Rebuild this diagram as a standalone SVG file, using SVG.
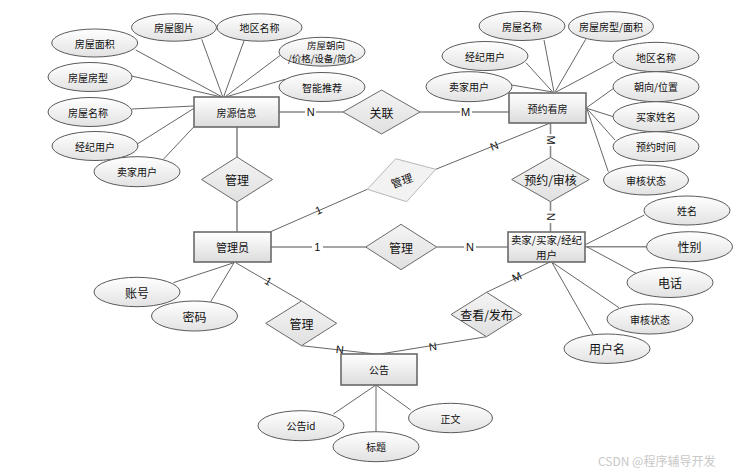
<svg xmlns="http://www.w3.org/2000/svg" width="738" height="473" viewBox="0 0 738 473">
<defs>
<linearGradient id="gE" x1="0" y1="0" x2="0" y2="1"><stop offset="0" stop-color="#ffffff"/><stop offset="1" stop-color="#e2e2e2"/></linearGradient>
<linearGradient id="gR" x1="0" y1="0" x2="0" y2="1"><stop offset="0" stop-color="#ffffff"/><stop offset="1" stop-color="#dcdcdc"/></linearGradient>
<linearGradient id="gD" x1="0" y1="0" x2="0" y2="1"><stop offset="0" stop-color="#f4f4f4"/><stop offset="1" stop-color="#e0e0e0"/></linearGradient>
<style>
.e{fill:url(#gE);stroke:#5a5a5a;stroke-width:1}
.r{fill:url(#gR);stroke:#6a6a6a;stroke-width:1.6}
.d{fill:url(#gD);stroke:#6a6a6a;stroke-width:1}
.dl{fill:#f2f2f2;stroke:#b8b8b8;stroke-width:1}
.c line,.c polyline{stroke:#666;stroke-width:1;fill:none}
.c .h{stroke:#888;stroke-width:1.6}
text{font-family:"Noto Sans CJK SC","Noto Sans",sans-serif;fill:#111;text-anchor:middle;dominant-baseline:central}
.t9{font-size:9.5px}
.t10{font-size:10px}
.t105{font-size:10.5px}
.t11{font-size:11px}
.t12{font-size:12px}
.lb{font-family:"Liberation Sans",sans-serif;font-size:11px;fill:#111}
.wm{font-size:12px;fill:#c8c8c8;text-anchor:start}
</style>
</defs>
<rect width="738" height="473" fill="#ffffff"/>

<g class="c" id="connectors">
<line x1="135.7" y1="50" x2="221.7" y2="96.7"/>
<line x1="201.7" y1="39.3" x2="222.7" y2="96.7"/>
<line x1="244.3" y1="40" x2="223.7" y2="96.7"/>
<line x1="280.7" y1="55" x2="225.3" y2="96.7"/>
<line x1="285" y1="79.3" x2="226.7" y2="96.7"/>
<line x1="131.7" y1="76" x2="220" y2="96.7"/>
<line x1="131.7" y1="109" x2="194" y2="106"/>
<line x1="137.3" y1="144" x2="194" y2="108.3"/>
<line x1="163.3" y1="159.3" x2="194" y2="126.7"/>
<line class="h" x1="237" y1="127" x2="237" y2="157"/>
<line class="h" x1="237" y1="202" x2="237" y2="232"/>
<line class="h" x1="279" y1="112" x2="343" y2="112"/>
<line class="h" x1="420" y1="112" x2="509" y2="112"/>
<line x1="270.7" y1="231.7" x2="367.3" y2="189.3"/>
<line x1="435.7" y1="169.3" x2="550.3" y2="123"/>
<line class="h" x1="271" y1="247" x2="365.7" y2="247"/>
<line class="h" x1="436.7" y1="247" x2="508" y2="247"/>
<line class="h" x1="550.5" y1="123" x2="550.5" y2="157.3"/>
<line class="h" x1="550.5" y1="201.7" x2="550.5" y2="232"/>
<line x1="173.3" y1="282.7" x2="234" y2="262.7"/>
<line x1="210.7" y1="301.7" x2="234" y2="262.7"/>
<line x1="235.7" y1="262.7" x2="301.5" y2="301"/>
<line x1="301.5" y1="345.7" x2="378.3" y2="354.3"/>
<line x1="378.3" y1="354.3" x2="486.5" y2="336.7"/>
<line x1="486.5" y1="292.3" x2="550" y2="262"/>
<line x1="376" y1="385" x2="333.3" y2="414"/>
<line x1="376" y1="385" x2="376" y2="431.7"/>
<line x1="376" y1="385" x2="410.7" y2="410"/>
<line x1="544" y1="40" x2="554" y2="92"/>
<line x1="585.7" y1="39.3" x2="555" y2="92"/>
<line x1="526" y1="62.7" x2="552.7" y2="92"/>
<line x1="511.7" y1="85" x2="552.7" y2="92"/>
<line x1="613.3" y1="61.7" x2="556" y2="92"/>
<line x1="615" y1="87.3" x2="585.7" y2="108.3"/>
<line x1="613.3" y1="116.7" x2="586.7" y2="108.3"/>
<line x1="615" y1="140" x2="586.7" y2="108.3"/>
<line x1="608.3" y1="171.7" x2="586.7" y2="108.3"/>
<line x1="584.7" y1="245" x2="644.3" y2="215"/>
<line class="h" x1="584.7" y1="246.7" x2="646.7" y2="246.7"/>
<line x1="586.7" y1="246.7" x2="636" y2="273.3"/>
<line x1="551.7" y1="262" x2="619" y2="307.7"/>
<line x1="551.7" y1="262" x2="593.3" y2="335"/>
<g>
<rect x="305" y="106" width="11" height="12" fill="#fff"/>
<text class="lb" x="310.7" y="112.3">N</text>
<rect x="460" y="106" width="12" height="12" fill="#fff"/>
<text class="lb" x="465.7" y="112.3">M</text>
<text class="lb" x="494.3" y="145.7" transform="rotate(-22 494.3 145.7)">N</text>
<text class="lb" x="318.3" y="210" transform="rotate(-24 318.3 210)">1</text>
<rect x="312" y="241" width="11" height="12" fill="#fff"/>
<text class="lb" x="317.3" y="246.7">1</text>
<rect x="464" y="241" width="12" height="12" fill="#fff"/>
<text class="lb" x="470" y="246.7">N</text>
<rect x="545" y="134" width="12" height="12" fill="#fff"/>
<text class="lb" x="551" y="140" transform="rotate(90 551 140)">M</text>
<rect x="545" y="211" width="12" height="12" fill="#fff"/>
<text class="lb" x="550.5" y="216.7" transform="rotate(90 550.5 216.7)">N</text>
<text class="lb" x="268.3" y="281" transform="rotate(30 268.3 281)">1</text>
<text class="lb" x="340" y="349.5" transform="rotate(6 340 349.5)">N</text>
<text class="lb" x="432.7" y="346.5" transform="rotate(-9 432.7 346.5)">N</text>
<text class="lb" x="516.7" y="276.7" transform="rotate(-25 516.7 276.7)">M</text>
</g>
</g>

<g id="n-fangyuan"><rect class="r" x="194" y="97" width="85" height="30"/><text class="t10" x="236.5" y="112">房源信息</text></g>
<g id="n-yuyue"><rect class="r" x="509" y="93" width="77" height="30"/><text class="t10" x="547.5" y="108">预约看房</text></g>
<g id="n-admin"><rect class="r" x="194" y="232" width="77" height="30"/><text class="t11" x="232.5" y="247">管理员</text></g>
<g id="n-user"><rect class="r" x="508" y="232" width="77" height="30"/><text class="t105" x="546.5" y="239">卖家/买家/经纪</text><text class="t105" x="546.5" y="254.5">用户</text></g>
<g id="n-notice"><rect class="r" x="341" y="354" width="76" height="31"/><text class="t10" x="379" y="369.5">公告</text></g>

<g id="r-guanli1"><polygon class="d" points="237,157 272.5,179.5 237,202 201.5,179.5"/><text class="t12" x="237" y="179.5">管理</text></g>
<g id="r-guanlian"><polygon class="d" points="381.5,90 420,112 381.5,134 343,112"/><text class="t12" x="381.5" y="112">关联</text></g>
<g id="r-guanli2"><polygon class="dl" points="395.7,158.7 435.7,169.3 406.7,201.7 367.3,189.3"/><text class="t11" x="401.5" y="180" transform="rotate(-20 401.5 180)">管理</text></g>
<g id="r-yuyueshenhe"><polygon class="d" points="550.5,157.3 589.3,179.5 550.5,201.7 511.7,179.5"/><text class="t12" x="550.5" y="179.5">预约/审核</text></g>
<g id="r-guanli3"><polygon class="d" points="401,224.3 436.7,247 401,269.7 365.7,247"/><text class="t12" x="401" y="247">管理</text></g>
<g id="r-guanli4"><polygon class="d" points="301.5,301 336.7,323.3 301.5,345.7 265.7,323.3"/><text class="t12" x="301.5" y="323.3">管理</text></g>
<g id="r-chakan"><polygon class="d" points="486.5,292.3 521.7,314.5 486.5,336.7 451,314.5"/><text class="t12" x="486.5" y="314.5">查看/发布</text></g>

<g id="a-fwmj"><ellipse class="e" cx="94.7" cy="43" rx="43" ry="14"/><text class="t10" x="94.7" y="43">房屋面积</text></g>
<g id="a-fwtp"><ellipse class="e" cx="174" cy="27.5" rx="42.5" ry="13.7"/><text class="t10" x="174" y="27.5">房屋图片</text></g>
<g id="a-dqmc1"><ellipse class="e" cx="259.5" cy="27.5" rx="42.5" ry="13.7"/><text class="t10" x="259.5" y="27.5">地区名称</text></g>
<g id="a-cx"><ellipse class="e" cx="322" cy="51.7" rx="43" ry="14.4"/><text class="t9" x="326" y="45.3">房屋朝向</text><text class="t9" x="322" y="58">/价格/设备/简介</text></g>
<g id="a-zntj"><ellipse class="e" cx="322" cy="87" rx="43" ry="14.5"/><text class="t10" x="322" y="87">智能推荐</text></g>
<g id="a-fwfx"><ellipse class="e" cx="90" cy="77" rx="42" ry="14.5"/><text class="t10" x="88" y="77">房屋房型</text></g>
<g id="a-fwmc1"><ellipse class="e" cx="90" cy="112" rx="42" ry="14.5"/><text class="t10" x="88" y="112">房屋名称</text></g>
<g id="a-jjyh1"><ellipse class="e" cx="95" cy="146" rx="43" ry="14.5"/><text class="t10" x="95" y="146">经纪用户</text></g>
<g id="a-mjyh1"><ellipse class="e" cx="137" cy="171.7" rx="43" ry="15"/><text class="t10" x="137" y="171.7">卖家用户</text></g>

<g id="a-fwmc2"><ellipse class="e" cx="522" cy="26" rx="43" ry="14.5"/><text class="t10" x="522" y="26">房屋名称</text></g>
<g id="a-fxmj"><ellipse class="e" cx="611" cy="26.5" rx="42.5" ry="14.8"/><text class="t10" x="611" y="26.5">房屋房型/面积</text></g>
<g id="a-jjyh2"><ellipse class="e" cx="485" cy="56" rx="43" ry="14.5"/><text class="t10" x="485" y="56">经纪用户</text></g>
<g id="a-dqmc2"><ellipse class="e" cx="656" cy="57" rx="43" ry="14.7"/><text class="t10" x="656" y="57">地区名称</text></g>
<g id="a-mjyh2"><ellipse class="e" cx="469" cy="86.7" rx="43" ry="15"/><text class="t10" x="469" y="86.7">卖家用户</text></g>
<g id="a-cxwz"><ellipse class="e" cx="656" cy="86.7" rx="43" ry="15"/><text class="t10" x="656" y="86.7">朝向/位置</text></g>
<g id="a-mjxm"><ellipse class="e" cx="656" cy="116.7" rx="43" ry="15"/><text class="t10" x="656" y="116.7">买家姓名</text></g>
<g id="a-yysj"><ellipse class="e" cx="656" cy="146.7" rx="43" ry="15"/><text class="t10" x="656" y="146.7">预约时间</text></g>
<g id="a-shzt1"><ellipse class="e" cx="646" cy="180" rx="42.5" ry="15"/><text class="t10" x="646" y="180">审核状态</text></g>

<g id="a-xm"><ellipse class="e" cx="687" cy="210.5" rx="43" ry="14.5"/><text class="t10" x="687" y="210.5">姓名</text></g>
<g id="a-xb"><ellipse class="e" cx="689.5" cy="246.7" rx="43" ry="15"/><text class="t12" x="689.5" y="246.7">性别</text></g>
<g id="a-dh"><ellipse class="e" cx="670" cy="282.5" rx="43" ry="15"/><text class="t12" x="670" y="282.5">电话</text></g>
<g id="a-shzt2"><ellipse class="e" cx="650" cy="319" rx="43" ry="15"/><text class="t10" x="650" y="319">审核状态</text></g>
<g id="a-yhm"><ellipse class="e" cx="607" cy="348.7" rx="43" ry="14.7"/><text class="t12" x="607" y="348.7">用户名</text></g>

<g id="a-zh"><ellipse class="e" cx="137" cy="292" rx="43" ry="14.7"/><text class="t12" x="137" y="292">账号</text></g>
<g id="a-mm"><ellipse class="e" cx="194.5" cy="316" rx="43" ry="15"/><text class="t12" x="194.5" y="316">密码</text></g>

<g id="a-ggid"><ellipse class="e" cx="301" cy="425.7" rx="43" ry="15"/><text class="t10" x="301" y="425.7">公告id</text></g>
<g id="a-bt"><ellipse class="e" cx="376" cy="446.7" rx="43" ry="15"/><text class="t10" x="376" y="446.7">标题</text></g>
<g id="a-zw"><ellipse class="e" cx="450.5" cy="418" rx="42" ry="14.7"/><text class="t10" x="450.5" y="418">正文</text></g>

<text class="wm" x="598" y="460">CSDN @程序辅导开发</text>
</svg>
